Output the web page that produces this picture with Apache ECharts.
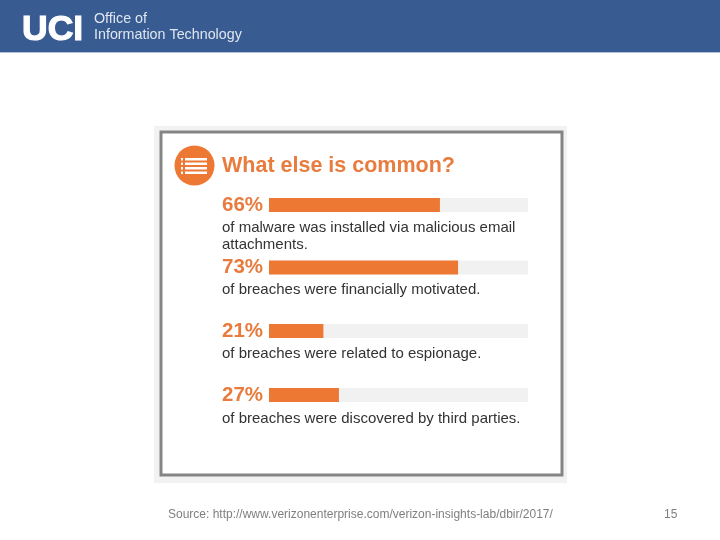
<!DOCTYPE html>
<html lang="en">
<head>
  <meta charset="UTF-8">
  <title>What else is common?</title>
  <style>
    html, body { margin: 0; padding: 0; background: #fff; }
    #main { width: 720px; height: 540px; }
  </style>
</head>
<body>
  <div id="main"></div>
  <script src="https://cdn.jsdelivr.net/npm/echarts@6/dist/echarts.min.js"></script>
  <script>
    var myChart = echarts.init(document.getElementById('main'))

    var percents = [66, 73, 21, 27]
    var captions = [
      'of malware was installed via malicious email\nattachments.',
      'of breaches were financially motivated.',
      'of breaches were related to espionage.',
      'of breaches were discovered by third parties.'
    ]
    var barTops = [198, 260.5, 324, 388]
    var captionTops = [219.5, 281.5, 345.5, 410.5]

    var ORANGE = '#ed7833'
    var TEXT_ORANGE = '#e87b3e'
    var FONT = '"Liberation Sans", Arial, sans-serif'

    var grids = [], xAxes = [], yAxes = [], series = []
    percents.forEach(function (p, i) {
      grids.push({ left: 269, top: barTops[i], width: 259, height: 14 })
      xAxes.push({ gridIndex: i, type: 'value', min: 0, max: 100, show: false })
      yAxes.push({
        gridIndex: i,
        type: 'category',
        data: [p + '%'],
        axisLine: { show: false },
        axisTick: { show: false },
        axisLabel: {
          align: 'left',
          margin: 47,
          padding: [2, 0, 0, 0],
          color: TEXT_ORANGE,
          fontFamily: FONT,
          fontWeight: 'bold',
          fontSize: 20.5
        }
      })
      series.push({
        type: 'bar',
        xAxisIndex: i,
        yAxisIndex: i,
        data: [p],
        barWidth: 14,
        silent: true,
        showBackground: true,
        backgroundStyle: { color: '#f1f1f1' },
        itemStyle: { color: ORANGE }
      })
    })

    var graphics = [
      // header band
      { type: 'rect', z: -10, shape: { x: 0, y: 0, width: 720, height: 52 }, style: { fill: '#385c92' } },
      { type: 'rect', z: -10, shape: { x: 0, y: 52, width: 720, height: 1 }, style: { fill: '#b4c2d6' } },
      { type: 'text', x: 22, y: 12, style: { text: 'UCI', fill: '#fff', stroke: '#fff', lineWidth: 1.2, font: 'bold 35.5px ' + FONT } },
      { type: 'text', x: 94, y: 12.5, style: { text: 'Office of', fill: '#dfe6f0', font: '14.3px ' + FONT } },
      { type: 'text', x: 94, y: 28, style: { text: 'Information Technology', fill: '#dfe6f0', font: '14.3px ' + FONT } },
      // picture frame
      { type: 'rect', z: -10, shape: { x: 154, y: 126, width: 413, height: 357 }, style: { fill: '#f2f2f2' } },
      { type: 'rect', z: -9, shape: { x: 161, y: 132, width: 401, height: 343 }, style: { fill: '#fff', stroke: '#858585', lineWidth: 3 } },
      // list icon
      { type: 'circle', shape: { cx: 194.5, cy: 165.5, r: 20 }, style: { fill: ORANGE } },
      { type: 'text', x: 222, y: 155, style: { text: 'What else is common?', fill: TEXT_ORANGE, font: 'bold 21.5px ' + FONT } },
      // footer
      { type: 'text', x: 168, y: 509, style: { text: 'Source: http://www.verizonenterprise.com/verizon-insights-lab/dbir/2017/', fill: '#7f7f7f', font: '12px ' + FONT } },
      { type: 'text', x: 664, y: 509, style: { text: '15', fill: '#7f7f7f', font: '12px ' + FONT } }
    ]
    // icon rows
    for (var r = 0; r < 4; r++) {
      var rowY = 158 + r * 4.5
      graphics.push({ type: 'rect', shape: { x: 181, y: rowY, width: 2, height: 2.5 }, style: { fill: '#fff' } })
      graphics.push({ type: 'rect', shape: { x: 185, y: rowY, width: 22, height: 2.5 }, style: { fill: '#fff' } })
    }
    captions.forEach(function (c, i) {
      graphics.push({
        type: 'text',
        x: 222,
        y: captionTops[i],
        style: { text: c, fill: '#333', font: '15px ' + FONT, lineHeight: 17 }
      })
    })

    myChart.setOption({
      animation: false,
      backgroundColor: '#fff',
      grid: grids,
      xAxis: xAxes,
      yAxis: yAxes,
      series: series,
      graphic: graphics
    })
  </script>
</body>
</html>
